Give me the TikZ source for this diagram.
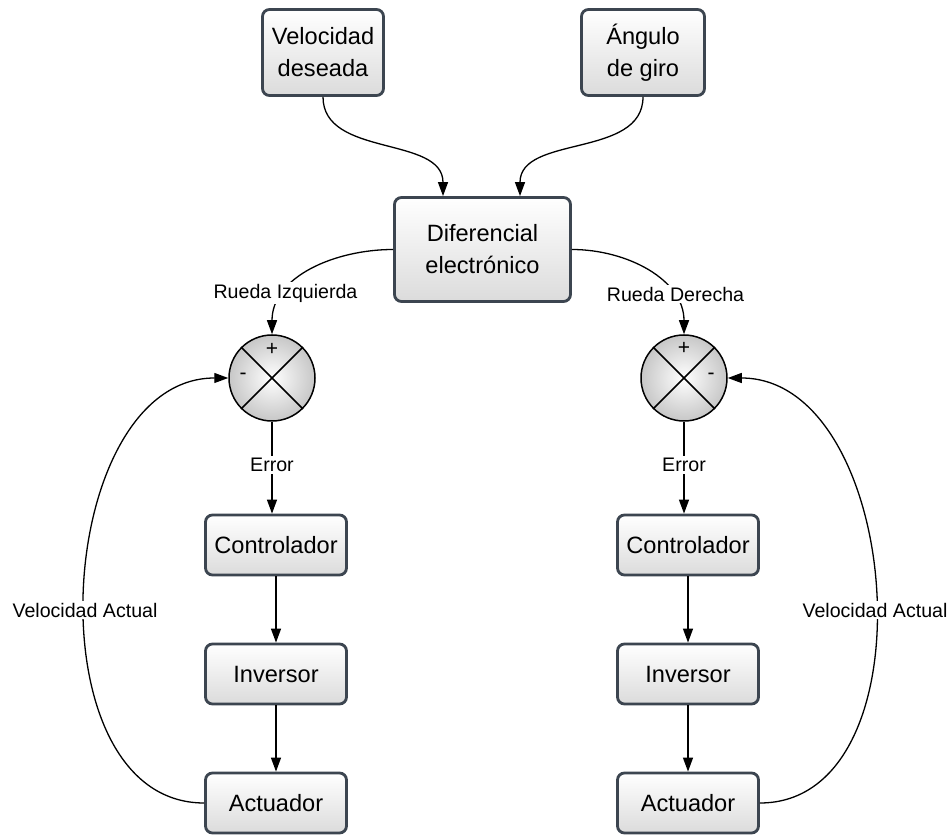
\documentclass[tikz,border=0pt]{standalone}
\usepackage{fontspec}
\setmainfont{Liberation Sans}
\usetikzlibrary{arrows.meta}
\definecolor{bordc}{HTML}{3C4550}
\begin{document}
\begin{tikzpicture}[x=1pt,y=1pt,
 blk/.style={draw=bordc, line width=2.8pt, rounded corners=7pt, top color=white, bottom color=black!14, align=center, font=\fontsize{23.6}{32}\selectfont, inner sep=0pt},
 sumc/.style={circle, draw=black, line width=1.5pt, inner color=white, outer color=black!22, minimum size=86pt, inner sep=0pt},
 arr/.style={line width=1.3pt, -{Triangle[length=14pt,width=10pt]}},
 lbl/.style={fill=white, font=\fontsize{19.6}{22}\selectfont, inner sep=2pt},
 sgn/.style={font=\fontsize{21}{22}\selectfont}]
\useasboundingbox (0,0) rectangle (951,839);

\node[blk, minimum width=121pt, minimum height=86pt] (vd) at (323,786.5) {Velocidad\\deseada};
\node[blk, minimum width=123pt, minimum height=86pt] (ag) at (643,786.5) {Ángulo\\de giro};
\node[blk, minimum width=176pt, minimum height=104pt] (de) at (482.5,589.5) {Diferencial\\electrónico};
\coordinate (dein1) at ([xshift=-39.5pt]de.north);
\coordinate (dein2) at ([xshift=37.5pt]de.north);

\node[sumc] (sl) at (272,461) {};
\node[sumc] (sr) at (684,461) {};
\draw[line width=1.5pt] (sl.45) -- (sl.225) (sl.135) -- (sl.-45);
\draw[line width=1.5pt] (sr.45) -- (sr.225) (sr.135) -- (sr.-45);
\node[sgn] (slp) at (272,490) {+};
\node[sgn] (slm) at (243,463) {-};
\node[sgn] (srp) at (684,491) {+};
\node[sgn] (srm) at (711,463) {-};

\node[blk, minimum width=141pt, minimum height=60pt] (cl) at (276,294) {Controlador};
\node[blk, minimum width=141pt, minimum height=60pt] (il) at (276,165) {Inversor};
\node[blk, minimum width=141pt, minimum height=60pt] (al) at (276,36) {Actuador};
\node[blk, minimum width=141pt, minimum height=60pt] (cr) at (688,294) {Controlador};
\node[blk, minimum width=141pt, minimum height=60pt] (ir) at (688,165) {Inversor};
\node[blk, minimum width=141pt, minimum height=60pt] (ar) at (688,36) {Actuador};

\draw[arr] (vd.south) to[out=-90,in=90] (dein1);
\draw[arr] (ag.south) to[out=-90,in=90] (dein2);

\draw[arr] (de.west) to[out=180,in=90] (sl.north);
\draw[arr] (de.east) to[out=0,in=90] (sr.north);
\node[lbl] (lri) at (285.5,546) {Rueda Izquierda};
\node[lbl] (lrd) at (675.5,545) {Rueda Derecha};

\draw[arr] (sl.south) -- (sl.south |- cl.north);
\draw[arr] (sr.south) -- (sr.south |- cr.north);
\node[lbl] (el) at (272,374) {Error};
\node[lbl] (er) at (684,374) {Error};

\draw[arr] (cl) -- (il);
\draw[arr] (il) -- (al);
\draw[arr] (cr) -- (ir);
\draw[arr] (ir) -- (ar);

\draw[arr] (al.west) .. controls +(-175,0) and +(-175,0) .. (sl.west);
\draw[arr] (ar.east) .. controls +(175,0) and +(175,0) .. (sr.east);
\node[lbl] (val) at (85,229) {Velocidad Actual};
\node[lbl] (var) at (875,229) {Velocidad Actual};
\end{tikzpicture}
\end{document}
